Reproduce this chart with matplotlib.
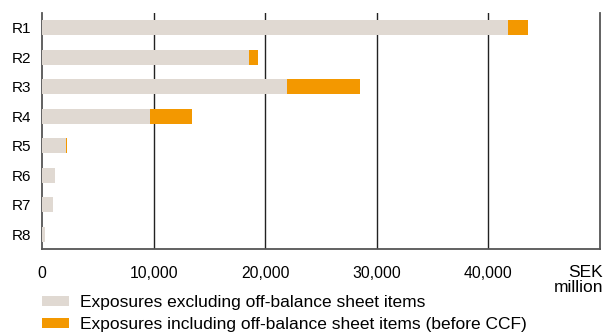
import matplotlib
matplotlib.use("Agg")
import matplotlib.pyplot as plt

plt.rcParams['font.family'] = ['Liberation Sans', 'DejaVu Sans']
plt.rcParams['font.size'] = 11

regions = ['R1', 'R2', 'R3', 'R4', 'R5', 'R6', 'R7', 'R8']
excl_off_balance = [41750, 18550, 21950, 9650, 2150, 1170, 990, 270]
incl_off_balance = [43550, 19350, 28500, 13400, 2230, 1170, 990, 270]
ticks = [0, 10000, 20000, 30000, 40000]
tick_labels = ['0', '10,000', '20,000', '30,000', '40,000']

grey = '#e0d9d2'
orange = '#f39800'

fig = plt.figure(figsize=(6.06, 3.32), dpi=100)
ax = fig.add_axes([0.0693, 0.25, 0.921, 0.711])

pos = range(len(regions))
# full exposure in orange underneath, on-balance part in grey on top
b2 = ax.barh(pos, incl_off_balance, height=0.5, color=orange, zorder=2)
b1 = ax.barh(pos, excl_off_balance, height=0.5, color=grey, zorder=3)

ax.set_xlim(0, 50000)
ax.set_ylim(7.5, -0.5)
ax.set_yticks(list(pos))
ax.set_yticklabels(regions, fontsize=11)
ax.set_xticks(ticks)
ax.set_xticklabels(tick_labels, fontsize=11.3)
ax.tick_params(axis='both', length=0)
ax.tick_params(axis='x', pad=12)
ax.tick_params(axis='y', pad=8)

for x in [10000, 20000, 30000, 40000]:
    ax.axvline(x, color='#222222', lw=1.0, zorder=1)

ax.spines['top'].set_visible(False)
for s in ['left', 'bottom', 'right']:
    ax.spines[s].set_color('#555555')
    ax.spines[s].set_linewidth(1.3)

fig.text(0.995, 0.157, 'SEK\nmillion', ha='right', va='center',
         fontsize=12.5, linespacing=1.0)

fig.legend([b1, b2],
           ['Exposures excluding off-balance sheet items',
            'Exposures including off-balance sheet items (before CCF)'],
           loc='upper left', bbox_to_anchor=(0.0693, 0.111), frameon=False,
           fontsize=12.5, borderpad=0, borderaxespad=0, handlelength=1.55,
           handleheight=0.575, handletextpad=0.63, labelspacing=0.4)

fig.savefig('out.png', dpi=100)
